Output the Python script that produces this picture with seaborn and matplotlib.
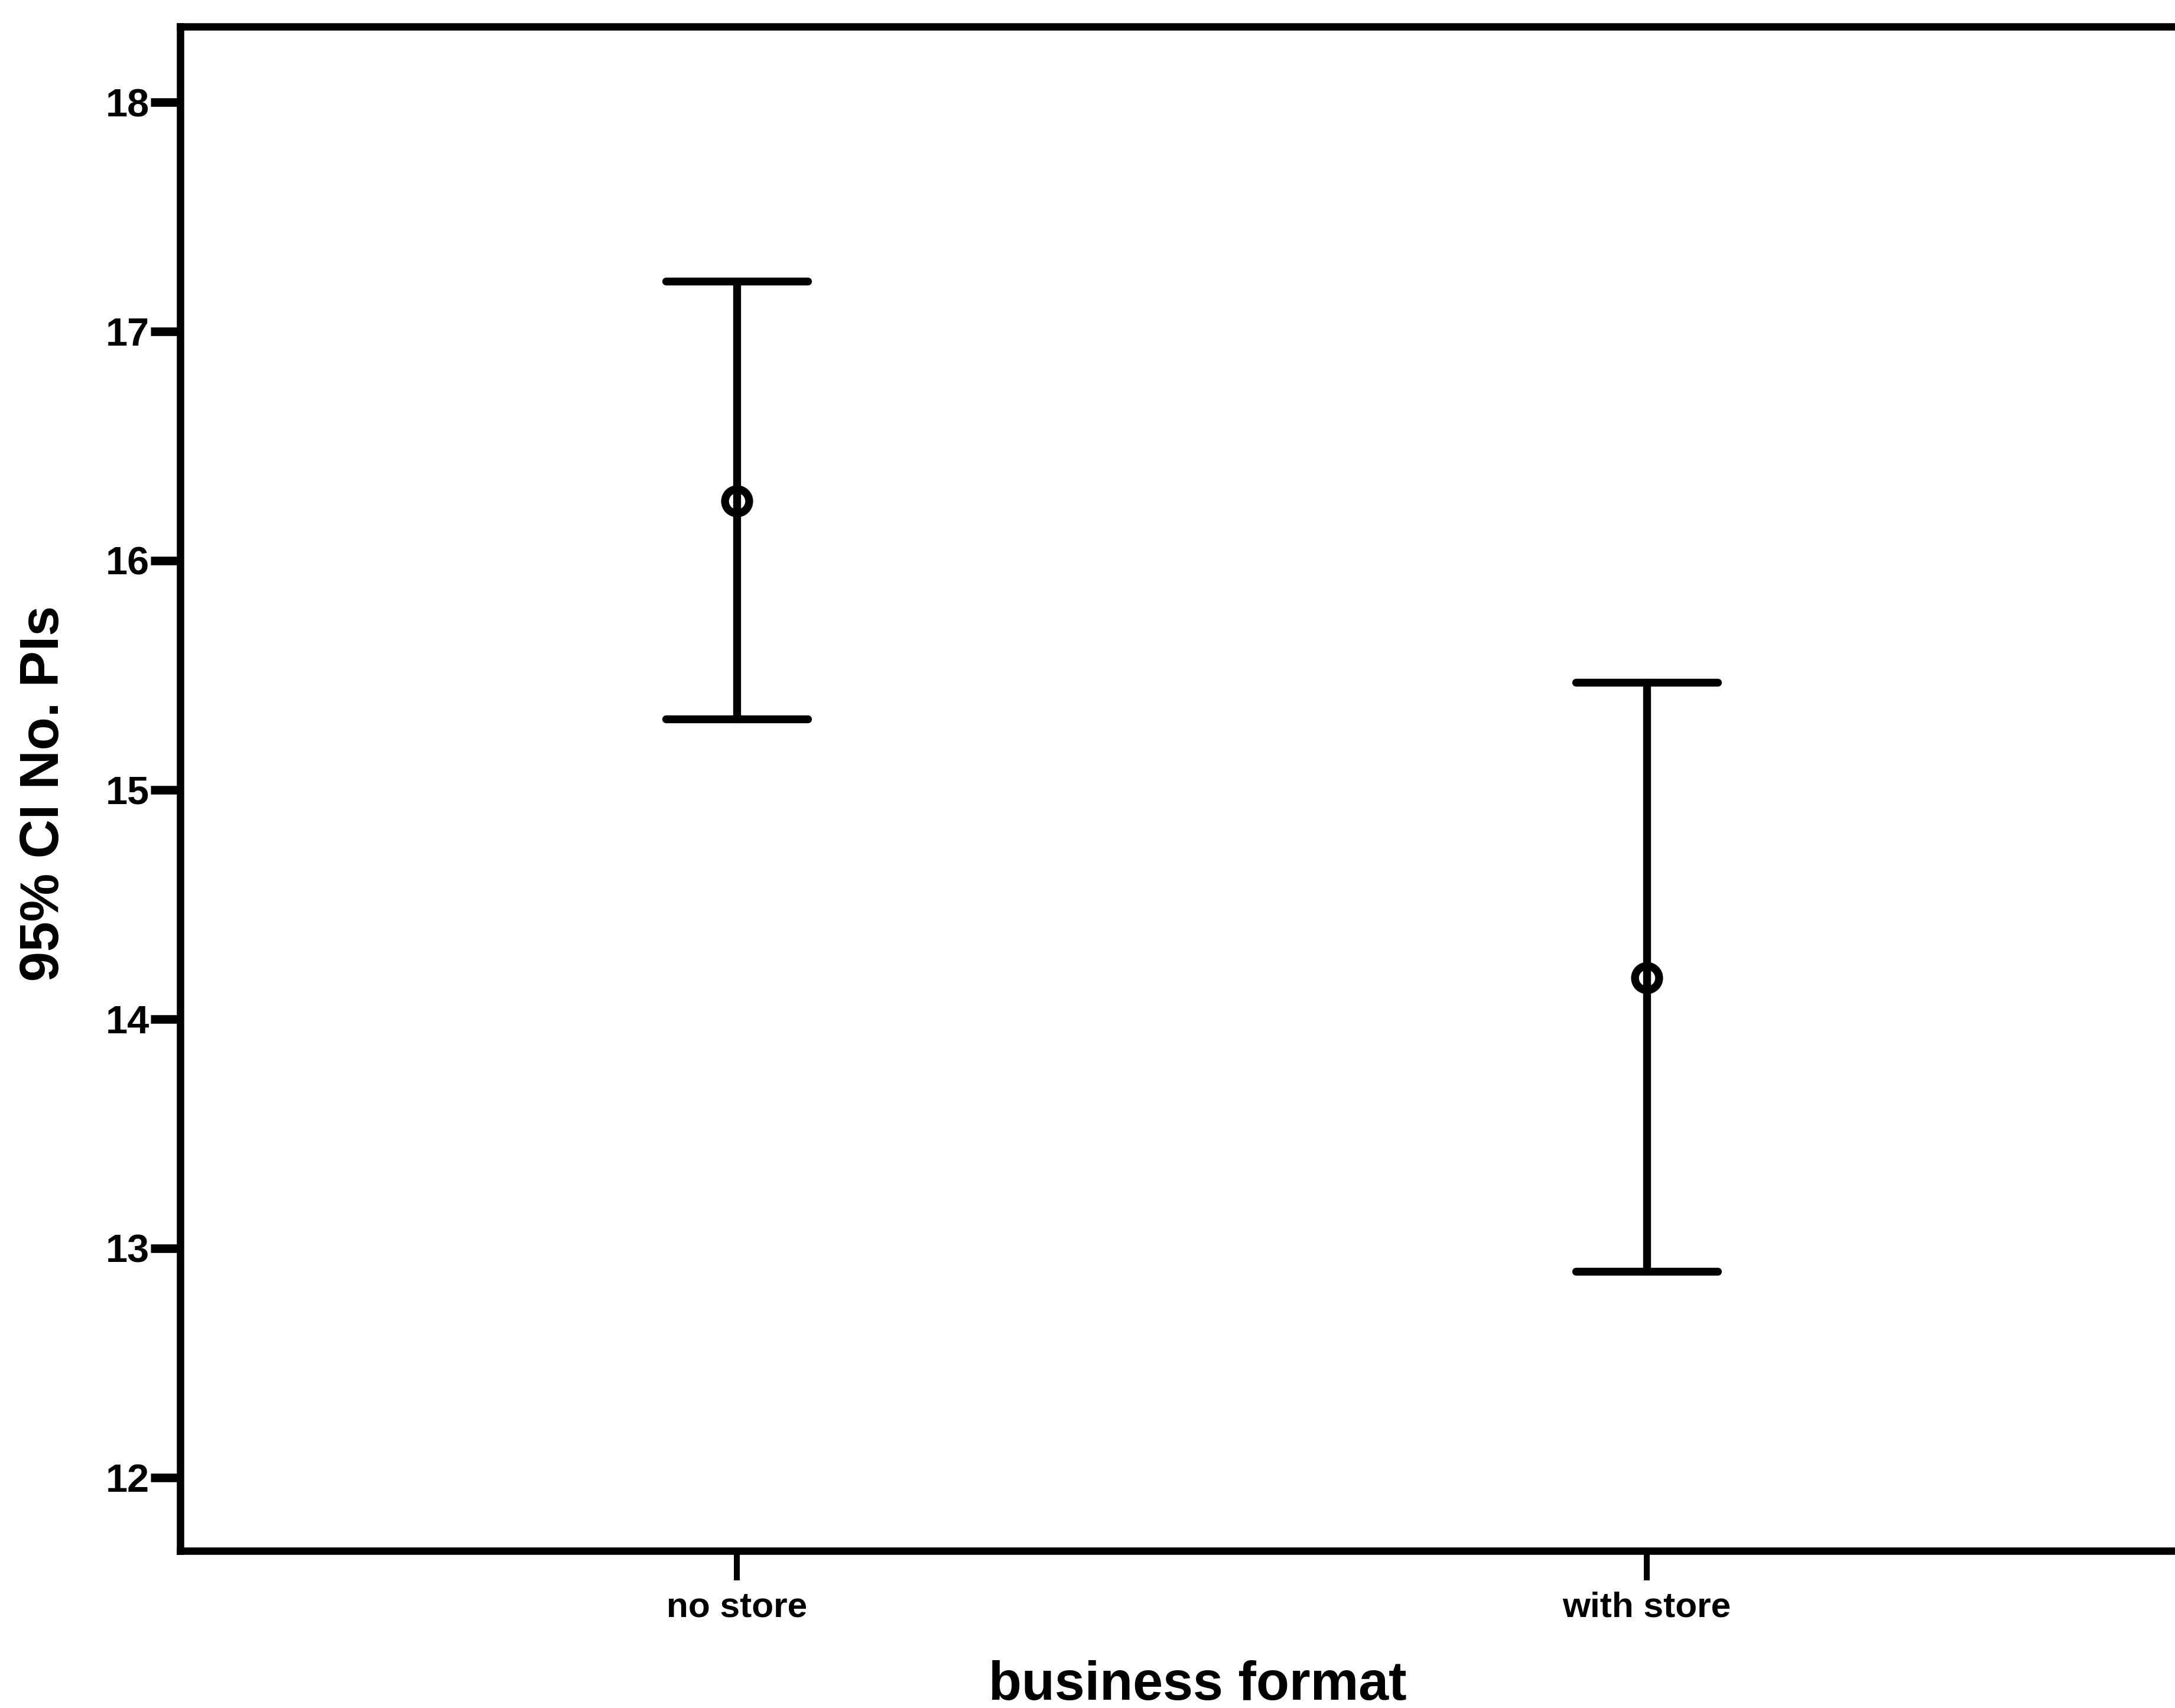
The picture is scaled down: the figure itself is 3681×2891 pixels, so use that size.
import numpy as np
import pandas as pd
import matplotlib
matplotlib.use("Agg")
import matplotlib.pyplot as plt
import seaborn as sns

# Group means with their 95% confidence bounds
formats = ["no store", "with store"]
ci_lower = [15.31, 12.90]
means = [16.26, 14.18]
ci_upper = [17.22, 15.47]
y_ticks = [12, 13, 14, 15, 16, 17, 18]

# Long-form table: each group holds (lower, mean, upper); the median picks the
# mean and the full percentile interval spans the confidence bounds.
rows = []
for fmt, lo, m, hi in zip(formats, ci_lower, means, ci_upper):
    for v in (lo, m, hi):
        rows.append({"business format": fmt, "No. PIs": v})
df = pd.DataFrame(rows)

sns.set_theme(style="white")
plt.rcParams["font.family"] = ["Liberation Sans", "DejaVu Sans"]
plt.rcParams["font.weight"] = "bold"

W, H = 3681, 2891
dpi = 300
fig = plt.figure(figsize=((W + 0.01) / dpi, (H + 0.01) / dpi), dpi=dpi)
ax = fig.add_axes([305 / W, 1 - 2625 / H, (3729 - 305) / W, (2625 - 45) / H])

sns.pointplot(
    data=df, x="business format", y="No. PIs", order=formats,
    estimator=np.median, errorbar=("pi", 100),
    color="black", linestyle="none", marker="o",
    markersize=9.8, markeredgewidth=3.2, markerfacecolor="none",
    capsize=0.156, err_kws={"linewidth": 3.2}, ax=ax,
)

ax.set_xlim(-0.612, 1.612)
ax.set_ylim(11.68, 18.33)
ax.set_yticks(y_ticks)
ax.set_yticklabels([str(t) for t in y_ticks])

for side, spine in ax.spines.items():
    spine.set_color("black")
    spine.set_linewidth(3.0)

ax.tick_params(axis="y", left=True, direction="out", length=12, width=3.5,
               pad=0.5, labelsize=16, colors="black")
ax.tick_params(axis="x", bottom=True, direction="out", length=12, width=2.4,
               pad=4.5, labelsize=14.5, colors="black")

ax.set_xlabel("business format", fontsize=22, fontweight="bold", color="black")
ax.xaxis.set_label_coords(0.503, -0.0975)
ax.xaxis.label.set_va("baseline")

ax.set_ylabel("95% CI No. PIs", fontsize=22, fontweight="bold", color="black")
ax.yaxis.set_label_coords(-0.0672, 0.497)
ax.yaxis.label.set_va("center")

fig.savefig("out.png", dpi=dpi, facecolor="white")
